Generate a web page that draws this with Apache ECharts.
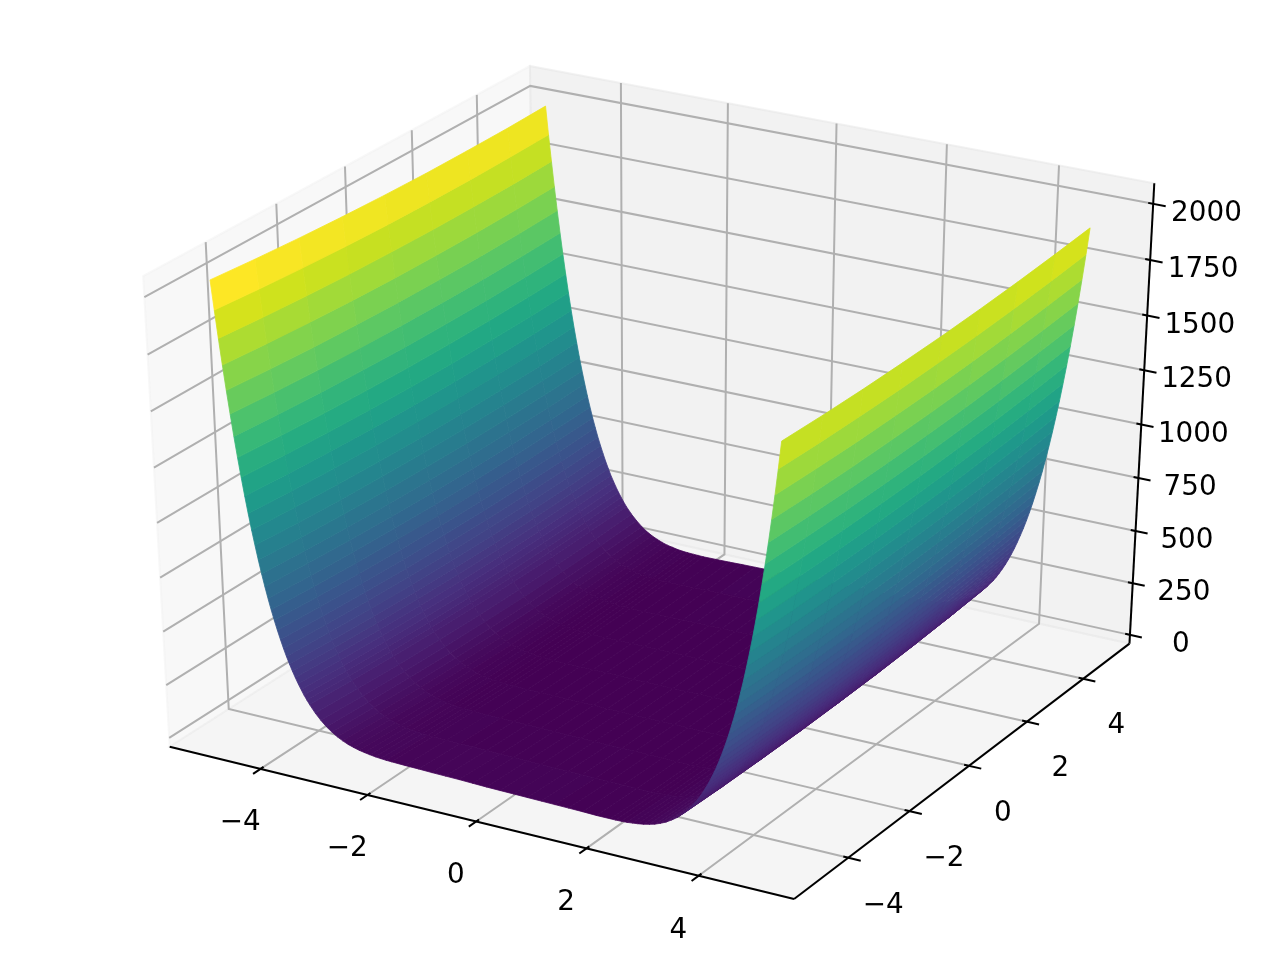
<!DOCTYPE html>
<html><head><meta charset="utf-8">
<style>html,body{margin:0;padding:0;background:#fff}#c{width:1280px;height:960px}</style>
<script src="https://cdn.jsdelivr.net/npm/echarts@6/dist/echarts.min.js"></script>
</head><body><div id="c"></div>
<script>
const xValues=[-5,-4.95,-4.9,-4.85,-4.8,-4.75,-4.7,-4.65,-4.6,-4.55,-4.5,-4.45,-4.4,-4.35,-4.3,-4.25,-4.2,-4.15,-4.1,-4.05,-4,-3.95,-3.9,-3.85,-3.8,-3.75,-3.7,-3.65,-3.6,-3.55,-3.5,-3.4,-3.3,-3.2,-3.1,-3,-2.9,-2.8,-2.7,-2.6,-2.5,-2.4,-2.3,-2.2,-2.1,-2,-1.75,-1.5,-1.25,-1,-0.75,-0.5,-0.25,0,0.25,0.5,0.75,1,1.25,1.5,1.75,2,2.1,2.2,2.3,2.4,2.5,2.6,2.7,2.8,2.9,3,3.1,3.2,3.3,3.4,3.5,3.55,3.6,3.65,3.7,3.75,3.8,3.85,3.9,3.95,4,4.05,4.1,4.15,4.2,4.25,4.3,4.35,4.4,4.45,4.5,4.55,4.6,4.65,4.7,4.75,4.8,4.85,4.9,4.95];
const yValues=[-5,-3.75,-2.5,-1.25,0,1.25,2.5,3.75,4.95];
const zAtYm500=[2048,1920,1799,1685,1576,1474,1377,1285,1199,1118,1041,969,902,838,778,722,669,620,574,531,491,453,418,386,356,328,302,278,255,235,216,182,154,130,111,94,81,70,62,55,50,46,42,40,38,37,35,34,32,31,30,28,26,25,24,23,22,21,20,19,17,17,17,18,19,22,25,29,35,42,52,64,80,98,121,148,181,199,219,241,265,290,318,347,379,414,451,491,533,579,627,679,735,794,858,925,996,1072,1153,1239,1330,1426,1528,1636,1750,1871];
const zAtYm375=[2031,1903,1782,1668,1559,1457,1360,1269,1183,1101,1025,953,885,821,762,706,653,604,558,515,475,438,403,370,340,312,286,262,240,219,201,167,139,115,96,80,67,56,48,41,36,32,29,26,25,23,22,21,20,19,18,16,15,14,13,13,12,11,11,10,9,8,9,10,11,14,17,21,27,35,45,57,73,91,114,142,174,193,213,235,258,284,312,341,373,408,445,485,527,573,622,674,729,789,852,919,991,1067,1148,1234,1325,1421,1523,1631,1745,1866];
const zAtYm250=[2017,1889,1768,1654,1545,1443,1346,1255,1169,1088,1011,939,872,808,749,693,640,591,545,502,462,425,390,358,328,300,274,250,228,207,188,155,127,104,84,68,55,45,36,30,25,21,18,16,14,13,12,11,11,10,9,8,7,6,6,5,5,5,4,4,3,3,4,5,6,9,12,17,23,31,41,53,69,88,111,138,171,189,210,232,255,281,309,338,370,405,442,482,525,570,619,671,727,786,850,917,989,1065,1146,1232,1323,1419,1521,1629,1744,1864];
const zAtYm125=[2006,1878,1757,1643,1535,1432,1336,1245,1159,1077,1001,929,862,798,739,683,630,581,535,492,452,415,380,348,318,290,264,241,218,198,179,146,118,95,76,60,47,37,28,22,17,13,10,8,7,6,5,5,4,4,3,3,2,2,1,1,1,1,1,1,0,1,2,3,5,7,11,15,22,30,40,52,68,87,110,138,171,189,209,231,255,281,309,338,371,405,442,482,525,571,620,672,728,787,851,918,990,1066,1147,1233,1324,1421,1523,1631,1745,1866];
const zAtY000=[1998,1870,1750,1635,1527,1425,1328,1237,1151,1070,994,922,855,791,732,676,623,574,529,486,446,409,374,342,312,284,258,234,212,192,173,140,113,89,70,54,42,31,23,17,12,9,6,4,3,2,1,1,1,1,1,0,0,0,0,0,1,1,1,1,1,2,3,4,6,9,12,17,23,31,42,54,70,89,113,140,173,192,212,234,258,284,312,342,374,409,446,486,529,574,623,676,732,791,855,922,994,1070,1151,1237,1328,1425,1527,1635,1750,1870];
const zAtYp125=[1993,1866,1745,1631,1523,1421,1324,1233,1147,1066,990,918,851,787,728,672,620,571,525,482,442,405,371,338,309,281,255,231,209,189,171,138,110,87,68,52,40,30,22,15,11,7,5,3,2,1,0,1,1,1,1,1,1,2,2,3,3,4,4,5,5,6,7,8,10,13,17,22,28,37,47,60,76,95,118,146,179,198,218,241,264,290,318,348,380,415,452,492,535,581,630,683,739,798,862,929,1001,1077,1159,1245,1336,1432,1535,1643,1757,1878];
const zAtYp250=[1992,1864,1744,1629,1521,1419,1323,1232,1146,1065,989,917,850,786,727,671,619,570,525,482,442,405,370,338,309,281,255,232,210,189,171,138,111,88,69,53,41,31,23,17,12,9,6,5,4,3,3,4,4,5,5,5,6,6,7,8,9,10,11,11,12,13,14,16,18,21,25,30,36,45,55,68,84,104,127,155,188,207,228,250,274,300,328,358,390,425,462,502,545,591,640,693,749,808,872,939,1011,1088,1169,1255,1346,1443,1545,1654,1768,1889];
const zAtYp375=[1993,1866,1745,1631,1523,1421,1325,1234,1148,1067,991,919,852,789,729,674,622,573,527,485,445,408,373,341,312,284,258,235,213,193,174,142,114,91,73,57,45,35,27,21,17,14,11,10,9,8,9,10,11,11,12,13,13,14,15,16,18,19,20,21,22,23,25,26,29,32,36,41,48,56,67,80,96,115,139,167,201,219,240,262,286,312,340,370,403,438,475,515,558,604,653,706,762,821,885,953,1025,1101,1183,1269,1360,1457,1559,1668,1782,1903];
const zAtYp495=[1998,1870,1750,1636,1528,1426,1330,1239,1153,1072,996,925,857,794,735,679,627,578,533,490,451,414,379,347,317,290,264,241,219,199,180,148,121,98,79,64,52,42,34,29,24,21,19,18,17,16,17,18,20,21,22,22,23,25,26,27,29,31,32,33,34,36,38,39,42,45,49,54,61,70,81,94,110,130,153,182,215,234,255,277,301,327,355,385,418,453,490,530,573,619,669,721,777,837,901,969,1041,1117,1199,1285,1376,1473,1575,1684,1798,1919];
const zColumns=[zAtYm500,zAtYm375,zAtYm250,zAtYm125,zAtY000,zAtYp125,zAtYp250,zAtYp375,zAtYp495];
const xTicks=[-4,-2,0,2,4], xTickLabels=['\u22124','\u22122','0','2','4'];
const yTicks=[-4,-2,0,2,4], yTickLabels=['\u22124','\u22122','0','2','4'];
const zTicks=[0,250,500,750,1000,1250,1500,1750,2000], zTickLabels=['0','250','500','750','1000','1250','1500','1750','2000'];
const viridis=['#440154','#481a6c','#472f7d','#414487','#39568c','#31688e','#2a788e','#23888e','#1f988b','#22a884','#35b779','#54c568','#7ad151','#a5db36','#d2e21b','#fde725'];
const xLim=[-5.4975,5.4475], yLim=[-5.4975,5.4475], zLim=[0,2047.9];
const PAD=1/48, OUT=0.02, IN=0.008, LD=0.057, LDY=15;
const FONT='27.8px "DejaVu Sans"';

function nx(x){return (x-xLim[0])/(xLim[1]-xLim[0]);}
function ny(y){return (y-yLim[0])/(yLim[1]-yLim[0]);}
function nz(z){return (z-zLim[0])/(zLim[1]-zLim[0]);}
const N=[0.4330127,-0.75,0.5],U=[0.8660254,0.5,0],V=[-0.25,0.4330127,0.8660254];
function dot(a,b){return a[0]*b[0]+a[1]*b[1]+a[2]*b[2];}
function depth(p){const c=[p[0]-.5,p[1]-.5,p[2]-.5];return 10-dot(N,c);}
function proj(p){const c=[p[0]-.5,p[1]-.5,p[2]-.5],d=10-dot(N,c);return [dot(U,c)/d,dot(V,c)/d];}
function color(t){t=Math.floor(Math.max(0,Math.min(1,t))*255.999)/255*(viridis.length-1);const i=Math.min(viridis.length-2,Math.floor(t)),f=t-i;
 const a=parseInt(viridis[i].slice(1),16),b=parseInt(viridis[i+1].slice(1),16);
 const m=s=>Math.round(((a>>s)&255)*(1-f)+((b>>s)&255)*f);return 'rgb('+m(16)+','+m(8)+','+m(0)+')';}

const L0=-PAD,L1=1+PAD;
const panes=[
 {c:'rgba(242,242,242,0.5)',p:[[L0,L0,L0],[L0,L1,L0],[L0,L1,L1],[L0,L0,L1]]},
 {c:'rgba(230,230,230,0.5)',p:[[L0,L1,L0],[L1,L1,L0],[L1,L1,L1],[L0,L1,L1]]},
 {c:'rgba(236,236,236,0.5)',p:[[L0,L0,L0],[L1,L0,L0],[L1,L1,L0],[L0,L1,L0]]}
];
const gridLines=[],tickLines=[],labels=[];
xTicks.forEach((v,i)=>{const u=nx(v);
 gridLines.push([[u,L0,L0],[u,L1,L0],[u,L1,L1]]);
 tickLines.push([[u,L0-OUT,L0],[u,L0+IN,L0]]);
 labels.push({p:[u,L0-LD,L0-LD],t:xTickLabels[i]});});
yTicks.forEach((v,i)=>{const u=ny(v);
 gridLines.push([[L1,u,L0],[L0,u,L0],[L0,u,L1]]);
 tickLines.push([[L1+OUT,u,L0],[L1-IN,u,L0]]);
 labels.push({p:[L1+LD,u,L0-LD],t:yTickLabels[i]});});
zTicks.forEach((v,i)=>{const u=nz(v);
 gridLines.push([[L1,L1,u],[L0,L1,u],[L0,L0,u]]);
 tickLines.push([[L1+OUT,L1,u],[L1-IN,L1,u]]);
 labels.push({p:[L1+LD,L1+LD,u],t:zTickLabels[i]});});
const axisLines=[[[L0,L0,L0],[L1,L0,L0]],[[L1,L0,L0],[L1,L1,L0]],[[L1,L1,L0],[L1,L1,L1]]];

const faces=[];
let faceMin=Infinity,faceMax=-Infinity;
for(let i=0;i<xValues.length-1;i++)for(let j=0;j<yValues.length-1;j++){
 const q4=[[i,j],[i+1,j],[i+1,j+1],[i,j+1]];
 const pts=q4.map(q=>[nx(xValues[q[0]]),ny(yValues[q[1]]),nz(zColumns[q[1]][q[0]])]);
 const zm=q4.reduce((s,q)=>s+zColumns[q[1]][q[0]],0)/4;
 const c=[0,1,2].map(k=>pts.reduce((s,p)=>s+p[k],0)/4);
 faceMin=Math.min(faceMin,zm);faceMax=Math.max(faceMax,zm);
 faces.push({pts,zm,d:depth(c)});
}
// the colour scale spans the face averages; the steepest corner face reaches about 1980
const colourMax=Math.max(faceMax,1980);
faces.forEach(f=>{f.col=color((f.zm-faceMin)/(colourMax-faceMin));});
faces.sort((a,b)=>b.d-a.d);

function toPx(api,p){return api.coord(proj(p));}
function base(name,list,fn,z){return {name,type:'custom',coordinateSystem:'cartesian2d',silent:true,animation:false,z,clip:false,progressive:0,
 encode:{x:0,y:1},data:list.map((_,i)=>[0,0,i]),renderItem:(params,api)=>fn(list[params.dataIndex],api)};}

const chart=echarts.init(document.getElementById('c'),null,{renderer:'canvas'});
chart.setOption({
 animation:false,backgroundColor:'#fff',
 grid:{left:0,right:0,top:0,bottom:0},
 xAxis:{type:'value',min:-0.095,max:0.09,show:false},
 yAxis:{type:'value',min:-0.09548,max:0.09071,show:false},
 series:[
  base('panes',panes,(o,api)=>({type:'polygon',shape:{points:o.p.map(p=>toPx(api,p))},style:{fill:o.c,stroke:o.c,lineWidth:2}}),1),
  base('grid',gridLines,(o,api)=>({type:'polyline',shape:{points:o.map(p=>toPx(api,p))},style:{fill:null,stroke:'#b0b0b0',lineWidth:2}}),2),
  base('axes',axisLines,(o,api)=>({type:'polyline',shape:{points:o.map(p=>toPx(api,p))},style:{fill:null,stroke:'#000',lineWidth:2}}),3),
  base('ticks',tickLines,(o,api)=>({type:'polyline',shape:{points:o.map(p=>toPx(api,p))},style:{fill:null,stroke:'#000',lineWidth:2}}),3),
  base('surface',faces,(o,api)=>({type:'polygon',shape:{points:o.pts.map(p=>toPx(api,p))},style:{fill:o.col,stroke:o.col,lineWidth:0.8}}),4),
  base('labels',labels,(o,api)=>{const c=toPx(api,o.p);return {type:'text',style:{text:o.t,x:c[0],y:c[1]+LDY,textAlign:'center',textVerticalAlign:'middle',font:FONT,fill:'#000'}};},5)
 ]
});
</script></body></html>
